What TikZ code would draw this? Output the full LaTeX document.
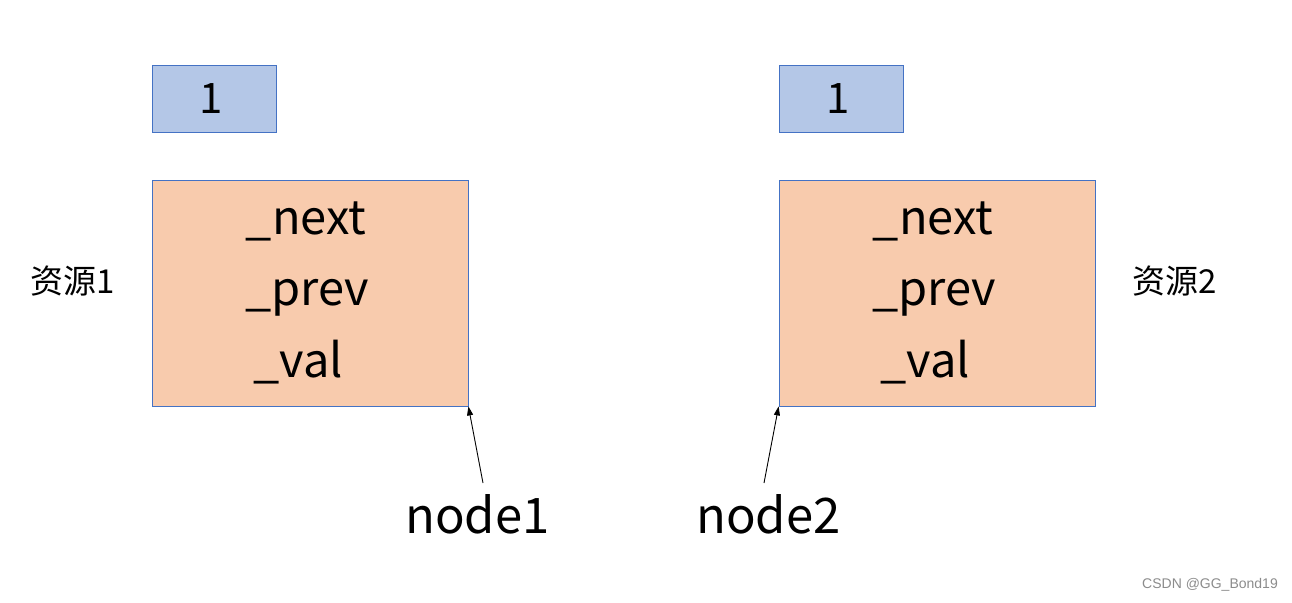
\documentclass[tikz,border=0pt]{standalone}
\usepackage{fontspec}
\setmainfont{Noto Sans CJK SC}
\newfontfamily\wmfont{Liberation Sans}
\usetikzlibrary{arrows.meta}
\definecolor{bluefill}{HTML}{B4C7E7}
\definecolor{boxedge}{HTML}{4472C4}
\definecolor{orangefill}{HTML}{F8CBAD}
\begin{document}
\begin{tikzpicture}[x=1pt,y=-1pt,
  valbox/.style={draw=boxedge, line width=0.8pt, fill=bluefill, minimum width=124pt, minimum height=67pt, inner sep=0pt},
  valtxt/.style={font=\fontsize{42}{44}\selectfont, inner sep=0pt, anchor=base},
  nodebox/.style={draw=boxedge, line width=0.8pt, fill=orangefill, minimum width=316pt, minimum height=226pt, inner sep=0pt},
  fieldtxt/.style={font=\fontsize{47}{50}\selectfont, inner sep=0pt, anchor=base},
  restxt/.style={font=\fontsize{33}{36}\selectfont, inner sep=0pt},
  nametxt/.style={font=\fontsize{49}{52}\selectfont, inner sep=0pt, anchor=base},
  ptr/.style={-{Triangle[length=9pt,width=6pt]}, line width=0.9pt, black}
]
\useasboundingbox (0,0) rectangle (1292,602);
\fill[white] (0,0) rectangle (1292,602);

% left
\node[valbox] (v1) at (214,98.5) {};
\node[valtxt] (v1t) at (211,113) {1};
\node[nodebox] (n1) at (310,293) {};
\node[fieldtxt] (n1next) at (306,234) {\_next};
\node[fieldtxt] (n1prev) at (307,305) {\_prev};
\node[fieldtxt] (n1val) at (298,377) {\_val};
\node[restxt] (r1) at (73,281) {资源1};
\node[nametxt] (lab1) at (477.5,533) {node1};
\coordinate (t1) at (483,483);
\draw[ptr] (t1) -- (n1.south east);

% right
\node[valbox] (v2) at (841,98.5) {};
\node[valtxt] (v2t) at (838,113) {1};
\node[nodebox] (n2) at (937,293) {};
\node[fieldtxt] (n2next) at (933,234) {\_next};
\node[fieldtxt] (n2prev) at (934,305) {\_prev};
\node[fieldtxt] (n2val) at (925,377) {\_val};
\node[restxt] (r2) at (1175,281) {资源2};
\node[nametxt] (lab2) at (768.5,533) {node2};
\coordinate (t2) at (764,483);
\draw[ptr] (t2) -- (n2.south west);

\node[font=\wmfont\fontsize{14}{16}\selectfont, text=black!45, inner sep=0pt] (wm) at (1210,585) {CSDN @GG\_Bond19};
\end{tikzpicture}
\end{document}
